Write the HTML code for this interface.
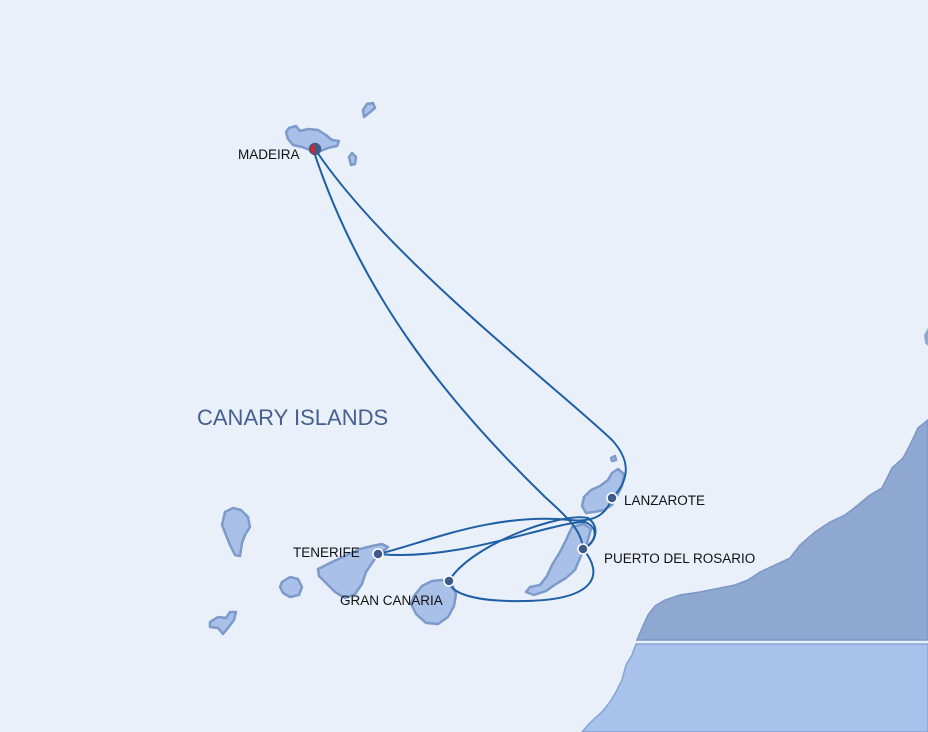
<!DOCTYPE html>
<html><head><meta charset="utf-8"><style>
html,body{margin:0;padding:0;background:#eaf0f9;}
svg{display:block;}
text{font-family:"Liberation Sans",sans-serif;}
</style></head><body>
<svg width="928" height="732" viewBox="0 0 928 732" xmlns="http://www.w3.org/2000/svg">
<rect width="928" height="732" fill="#eaf0f9"/>
<!-- mainland -->
<path d="M928,420 L918,428 L910,445 L903,458 L892,468 L882,488 L870,495 L858,505 L845,515 L830,522 L815,532 L800,545 L790,558 L775,565 L760,572 L748,580 L735,585 L720,588 L700,592 L680,595 L665,600 L655,606 L648,615 L642,628 L637,640 L928,640 Z" fill="#8fa8d2" stroke="#7b97c8" stroke-width="1.5"/>
<path d="M636,644 L632,655 L626,665 L622,680 L616,692 L610,702 L602,712 L595,718 L588,725 L582,732 L928,732 L928,644 Z" fill="#a8c2eb" stroke="#86a3d6" stroke-width="1.5"/>
<path d="M928,328 L924,335 L925,343 L928,346 Z" fill="#8fa8d2"/>
<g fill="#a9c1e8" stroke="#7d9acb" stroke-width="2.5" stroke-linejoin="round">
<!-- Madeira -->
<path d="M289,128 L296,126 L300,131 L308,129 L318,130 L326,135 L332,140 L339,141 L337,146 L328,148 L318,152 L310,150 L302,147 L293,145 L288,139 L286,132 Z"/>
<path d="M363,110 L367,104 L373,103 L375,108 L369,113 L364,117 Z"/>
<path d="M349,157 L352,153 L356,157 L355,164 L351,165 Z"/>
<!-- La Palma -->
<path d="M225,512 L233,508 L241,510 L248,517 L250,527 L245,535 L242,543 L240,556 L235,555 L230,545 L226,535 L222,525 Z"/>
<!-- El Hierro -->
<path d="M210,622 L218,617 L226,618 L230,612 L236,612 L234,620 L228,628 L223,634 L218,628 L210,627 Z"/>
<!-- La Gomera -->
<path d="M282,582 L290,577 L298,579 L302,587 L299,595 L290,597 L283,593 L280,587 Z"/>
<!-- Tenerife -->
<path d="M318,569 L330,563 L345,556 L360,549 L372,546 L382,544 L388,547 L382,552 L374,560 L366,572 L362,584 L355,594 L345,598 L335,592 L326,583 L319,576 Z"/>
<!-- Gran Canaria -->
<path d="M414,596 L422,586 L432,581 L442,580 L452,584 L456,594 L454,606 L448,617 L438,624 L426,623 L416,614 L411,604 Z"/>
<!-- Fuerteventura -->
<path d="M572,527 L584,524 L591,529 L587,543 L580,558 L575,570 L566,578 L556,584 L546,591 L534,595 L526,592 L530,587 L540,585 L547,576 L552,565 L560,552 L566,540 Z"/>
<!-- Lanzarote -->
<path d="M582,506 L584,497 L591,490 L600,486 L608,480 L612,473 L618,469 L624,474 L622,486 L617,496 L612,505 L604,510 L594,512 L586,513 Z"/>
<path d="M611,458 L615,456 L616,460 L612,461 Z"/>
</g>
<!-- routes -->
<g fill="none" stroke="#1f5fa5" stroke-width="2">
<path d="M317,152 C390,260 560,390 612,440 C635,465 625,485 612,498"/>
<path d="M612,498 C605,518 590,522 570,520 C490,512 420,545 378,554"/>
<path d="M378,554 C460,562 550,522 585,522 C600,528 596,542 583,549"/>
<path d="M583,549 C605,575 595,600 525,601 C470,602 450,592 449,581"/>
<path d="M449,581 C470,545 560,512 588,518 C602,528 594,545 583,549"/>
<path d="M583,549 C582,530 565,515 545,497 C440,395 360,290 314,152"/>
</g>
<!-- dots -->
<g stroke="#ffffff" stroke-width="1.5" fill="#3d5a8c">
<circle cx="612" cy="498" r="5"/>
<circle cx="583" cy="549" r="5"/>
<circle cx="378" cy="554" r="5"/>
<circle cx="449" cy="581" r="5"/>
</g>
<circle cx="315" cy="149" r="5.5" fill="#c8282e" stroke="#3d5a8c" stroke-width="1.5"/>
<path d="M315,143.5 A5.5,5.5 0 0 1 315,154.5 Z" fill="#3d5a8c"/>
<!-- labels -->
<g font-size="13.5" fill="#111">
<text x="238" y="159">MADEIRA</text>
<text x="624" y="505">LANZAROTE</text>
<text x="604" y="563">PUERTO DEL ROSARIO</text>
<text x="293" y="557">TENERIFE</text>
<text x="340" y="605">GRAN CANARIA</text>
</g>
<text x="197" y="425" font-size="22" fill="#45608f">CANARY ISLANDS</text>
</svg>
</body></html>
